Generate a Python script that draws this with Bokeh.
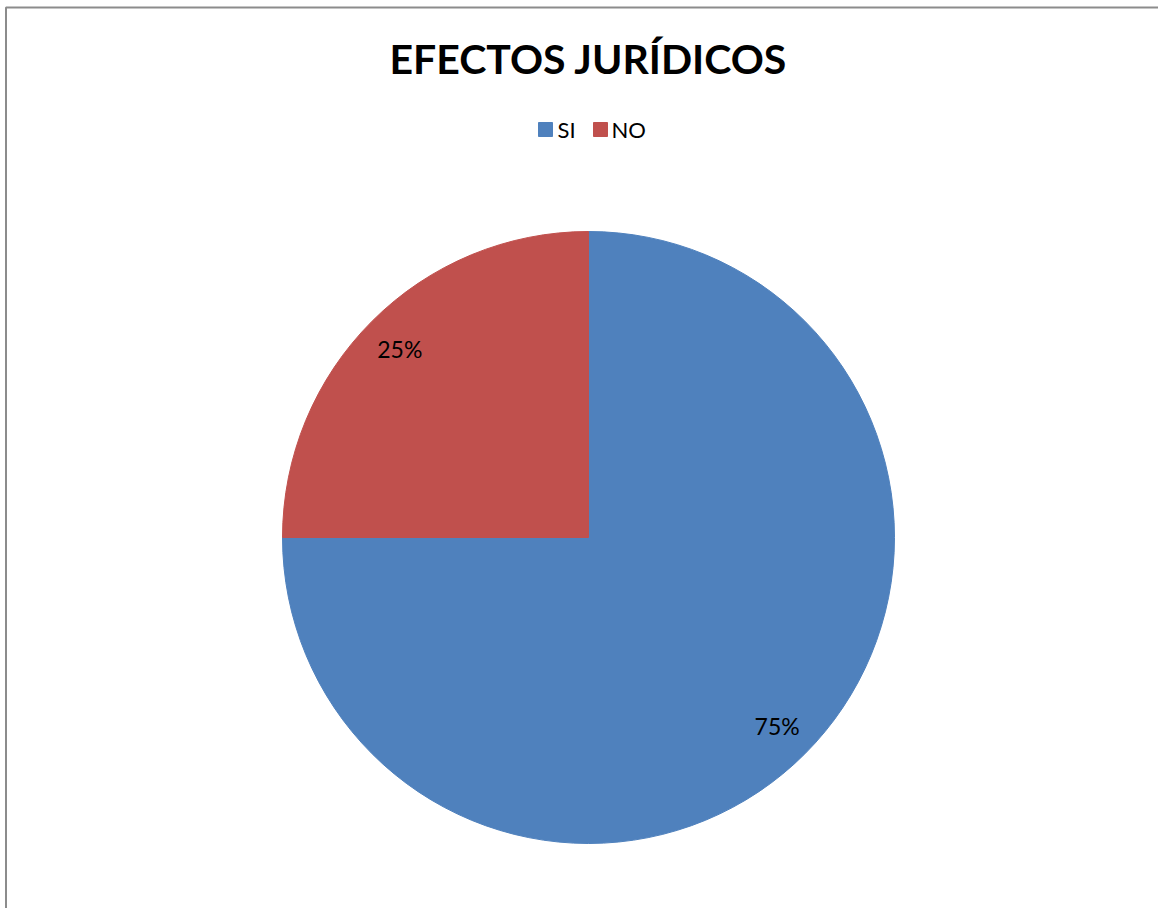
import math
from bokeh.plotting import figure
from bokeh.models import ColumnDataSource, Range1d
from bokeh.core.properties import value
from bokeh.embed import file_html
from bokeh.resources import INLINE

title_text = "EFECTOS JURÍDICOS"
categories = ["SI", "NO"]
values = [75, 25]
labels = ["75%", "25%"]
colors = ["#4F81BD", "#C0504D"]

W, H = 1158, 908
p = figure(width=W, height=H, output_backend="svg", toolbar_location=None,
           x_range=Range1d(0, W), y_range=Range1d(0, H),
           min_border=0, outline_line_color=None)
p.axis.visible = False
p.grid.visible = False
p.background_fill_color = "white"
p.border_fill_color = "white"

# frame border (left and top visible)
p.line(x=[5.5, 5.5, W + 5], y=[-5, H - 7, H - 7], line_color="#8c8c8c", line_width=2)

cx, cy, r = 588, 371, 306
total = sum(values)
starts, ends, lx, ly = [], [], [], []
acc = 0.0
for v in values:
    a0 = math.pi / 2 - acc / total * 2 * math.pi
    acc += v
    a1 = math.pi / 2 - acc / total * 2 * math.pi
    starts.append(a0)
    ends.append(a1)
    mid = (a0 + a1) / 2
    lx.append(cx + 0.872 * r * math.cos(mid))
    ly.append(cy + 0.872 * r * math.sin(mid))

src = ColumnDataSource(dict(cat=categories, start=starts, end=ends, color=colors,
                            lx=lx, ly=ly, lab=labels))
p.wedge(x=cx, y=cy, radius=r, start_angle="start", end_angle="end",
        direction="clock", fill_color="color", line_color="color", source=src)
p.text(x="lx", y="ly", text="lab", source=src, text_align="center",
       text_baseline="middle", text_font=value("Lato"), text_font_size="23px",
       text_color="black")

# title
p.text(x=[588], y=[850], text=[title_text], text_align="center", text_baseline="middle",
       text_font=value("Lato"), text_font_style="bold", text_font_size="41px",
       text_color="black")

# legend
leg_y = 779
sq_x = [545, 600]
tx = [557, 611]
lsrc = ColumnDataSource(dict(x=sq_x, tx=tx, y=[leg_y] * 2, cat=categories, color=colors))
p.rect(x="x", y="y", width=14, height=14, fill_color="color", line_color="color", source=lsrc)
p.text(x="tx", y="y", text="cat", source=lsrc, text_align="left", text_baseline="middle",
       text_font=value("Lato"), text_font_size="22px", text_color="black")

open("out.html", "w").write(file_html(p, INLINE))
